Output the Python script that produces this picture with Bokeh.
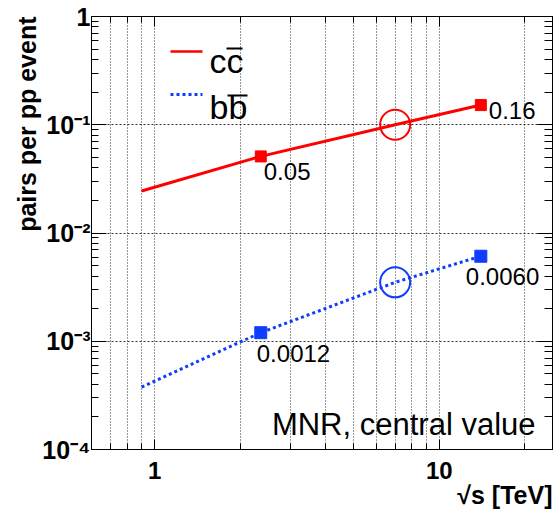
import math
from bokeh.plotting import figure
from bokeh.models import FixedTicker, LogAxis, Range1d, LinearScale, Title
from bokeh.core.properties import value
from bokeh.embed import file_html
from bokeh.resources import INLINE

# ---------------- data ----------------
sqrt_s_curve = [0.9, 2.36, 7.0, 14.0]
cc_curve = [0.0244, 0.051, 0.100, 0.152]
bb_curve = [0.000377, 0.0012, 0.0035, 0.0061]

sqrt_s_points = [2.36, 14.0]
cc_points = [0.051, 0.152]
bb_points = [0.0012, 0.0061]
cc_point_labels = ["0.05", "0.16"]
bb_point_labels = ["0.0012", "0.0060"]

sqrt_s_lhc = [7.0]
cc_lhc = [0.100]
bb_lhc = [0.0035]

legend_labels = ["cc", "bb"]
annotation_text = "MNR, central value"
x_title = "√s [TeV]"
y_title = "pairs per pp event"

x_major_ticks = [1, 10]
x_minor_ticks = [0.6, 0.7, 0.8, 0.9, 2, 3, 4, 5, 6, 7, 8, 9, 20]
x_tick_labels = {1: "1", 10: "10"}
y_major_ticks = [1e-4, 1e-3, 1e-2, 1e-1, 1]
y_minor_ticks = [m * 10.0 ** e for e in range(-4, 0) for m in range(2, 10)]
y_tick_labels = {1e-4: "10⁻⁴", 1e-3: "10⁻³", 1e-2: "10⁻²", 1e-1: "10⁻¹", 1: "1"}

RED = "#ff0000"
BLUE = "#0f3cff"
FONT = "Liberation Sans"

FW, FH = 461, 433

p = figure(width=553, height=512, x_axis_type="log", y_axis_type="log",
           x_range=Range1d(0.6, 25), y_range=Range1d(1e-4, 1),
           output_backend="svg", toolbar_location=None,
           min_border_left=91, min_border_right=1, min_border_top=16, min_border_bottom=63)
p.background_fill_color = "white"
p.border_fill_color = "white"
p.outline_line_color = "black"
p.outline_line_width = 1

xt = FixedTicker(ticks=x_major_ticks, minor_ticks=x_minor_ticks)
yt = FixedTicker(ticks=y_major_ticks, minor_ticks=y_minor_ticks)

def style_axis(ax, ticker, major_in, minor_in, labels=None, font_size="24px", standoff=3):
    ax.ticker = ticker
    ax.axis_line_color = "black"
    ax.major_tick_out = 0
    ax.minor_tick_out = 0
    ax.major_tick_in = major_in
    ax.minor_tick_in = minor_in
    ax.major_tick_line_color = "black"
    ax.minor_tick_line_color = "black"
    ax.major_label_text_font = FONT
    ax.major_label_text_font_style = "bold"
    ax.major_label_standoff = standoff
    if labels is not None:
        ax.major_label_overrides = labels
        ax.major_label_text_font_size = font_size
        ax.major_label_text_color = "black"
    else:
        ax.major_label_text_font_size = "1px"
        ax.major_label_text_color = None
        ax.major_label_standoff = 0

xax = p.xaxis[0]
yax = p.yaxis[0]
style_axis(xax, xt, 10, 6, x_tick_labels, "24px", 12)
style_axis(yax, yt, 15, 7, y_tick_labels, "25px", 1)

top = LogAxis()
style_axis(top, xt, 10, 6)
p.add_layout(top, "above")
right = LogAxis()
style_axis(right, yt, 15, 8)
p.add_layout(right, "right")

p.add_layout(Title(text=x_title, align="right", standoff=-6, text_font=FONT, text_font_style="bold",
                   text_font_size="25px", text_color="black"), "below")
p.add_layout(Title(text=y_title, align="right", standoff=-2, text_font=FONT, text_font_style="bold",
                   text_font_size="25px", text_color="black"), "left")

p.xgrid.ticker = xt
p.ygrid.ticker = yt
p.xgrid.grid_line_color = "black"
p.xgrid.grid_line_dash = "1 2"
p.xgrid.grid_line_alpha = 0.8
p.xgrid.minor_grid_line_color = "black"
p.xgrid.minor_grid_line_dash = "1 2"
p.xgrid.minor_grid_line_alpha = 0.8
p.ygrid.grid_line_color = "black"
p.ygrid.grid_line_dash = "2 2"
p.ygrid.grid_line_alpha = 0.8
p.ygrid.minor_grid_line_color = None

# curves
p.line(sqrt_s_curve, cc_curve, line_color=RED, line_width=3)
p.line(sqrt_s_curve, bb_curve, line_color=BLUE, line_width=3, line_dash="3 3")

# points
p.scatter(sqrt_s_points, cc_points, marker="square", size=11, color=RED)
p.scatter(sqrt_s_points, bb_points, marker="square", size=12, color=BLUE)
p.scatter(sqrt_s_lhc, cc_lhc, marker="circle", size=30, fill_color=None, line_color=RED, line_width=2)
p.scatter(sqrt_s_lhc, bb_lhc, marker="circle", size=30, fill_color=None, line_color=BLUE, line_width=2)

# point labels
lab_kw = dict(text_font=value(FONT), text_font_size="24px", text_color="black",
              text_align="left", text_baseline="middle")
p.text([sqrt_s_points[0]], [cc_points[0]], text=[cc_point_labels[0]], x_offset=3, y_offset=15, **lab_kw)
p.text([sqrt_s_points[1]], [cc_points[1]], text=[cc_point_labels[1]], x_offset=8, y_offset=5, **lab_kw)
p.text([sqrt_s_points[0]], [bb_points[0]], text=[bb_point_labels[0]], x_offset=-4, y_offset=21, **lab_kw)
p.text([sqrt_s_points[1]], [bb_points[1]], text=[bb_point_labels[1]], x_offset=-15, y_offset=20, **lab_kw)

# frame-pixel coordinates for legend and annotation
p.extra_x_ranges = {"px": Range1d(0, FW)}
p.extra_y_ranges = {"py": Range1d(0, FH)}
p.extra_x_scales = {"px": LinearScale()}
p.extra_y_scales = {"py": LinearScale()}
fr = dict(x_range_name="px", y_range_name="py")

p.line([79, 111], [398, 398], line_color=RED, line_width=2.5, **fr)
p.line([79, 111], [355, 355], line_color=BLUE, line_width=3, line_dash="3 3", **fr)
p.text([118], [389], text=[legend_labels[0]], text_font=value(FONT), text_font_size="34px",
       text_align="left", text_baseline="middle", text_color="black", **fr)
p.text([118], [343], text=[legend_labels[1]], text_font=value(FONT), text_font_size="34px",
       text_align="left", text_baseline="middle", text_color="black", **fr)
# overbars
p.segment(x0=[135, 136], y0=[401, 354], x1=[151, 156], y1=[401, 354], line_color="black", line_width=2, **fr)

p.text([444], [25], text=[annotation_text], text_font=value(FONT), text_font_size="31px",
       text_align="right", text_baseline="middle", text_color="black", **fr)

open("out.html", "w").write(file_html(p, INLINE))
